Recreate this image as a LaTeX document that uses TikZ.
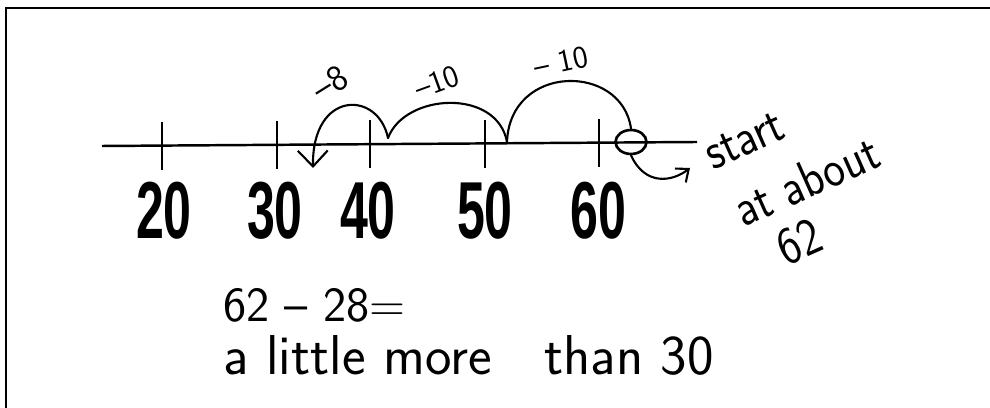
\documentclass[tikz,border=0pt]{standalone}
\usepackage{fontspec}
\usepackage{tikz}
\usetikzlibrary{calc,arrows.meta,shapes.geometric}
\newfontfamily\numfont{Liberation Sans}

\begin{document}
\begin{tikzpicture}[x=0.02cm,y=0.02cm,
		axis/.style={line width=1.4pt},
		hop/.style={line width=1.2pt,line cap=round},
		numlab/.style={font=\numfont\bfseries\fontsize{46}{46}\selectfont,xscale=0.62,inner sep=0pt},
		hand/.style={font=\sffamily\fontsize{26}{26}\selectfont,inner sep=0pt},
		jumplab/.style={font=\sffamily\fontsize{18}{18}\selectfont,inner sep=0pt},
		>={Straight Barb[length=9pt,width=17pt]}]
		\useasboundingbox (0,0) rectangle (990,408);
		% frame
		\draw[line width=1.2pt] (6,0) -- (6,400) -- (990,400);
		% number line
		\coordinate (L) at (102,262);
		\coordinate (R) at (697,266);
		\coordinate (T20) at (162,262);
		\coordinate (T30) at (277,263);
		\coordinate (T40) at (370,264);
		\coordinate (T50) at (485,264);
		\coordinate (T60) at (599,265);
		\draw[axis] (L) -- (R);
		\draw[axis] ($(T20)+(0,-24)$) -- ($(T20)+(0,24)$);
		\draw[axis] ($(T30)+(0,-24)$) -- ($(T30)+(0,24)$);
		\draw[axis] ($(T40)+(0,-24)$) -- ($(T40)+(0,24)$);
		\draw[axis] ($(T50)+(0,-24)$) -- ($(T50)+(0,24)$);
		\draw[axis] ($(T60)+(0,-24)$) -- ($(T60)+(0,24)$);
		\node[numlab] (n20) at (164,197) {20};
		\node[numlab] (n30) at (275,197) {30};
		\node[numlab] (n40) at (368,197) {40};
		\node[numlab] (n50) at (485,197) {50};
		\node[numlab] (n60) at (598,197) {60};
		% jumps back from 62
		\node[draw,hop,line width=1.5pt,ellipse,minimum width=0.62cm,minimum height=0.48cm,inner sep=0pt] (st) at (631,266) {};
		\coordinate (j52) at (507,266);
		\coordinate (j41) at (388,270);
		\coordinate (j34) at (313,240);
		\draw[hop] (st.north) .. controls (622,345) and (510,345) .. (j52);
		\draw[hop] (j52) .. controls (497,320) and (405,315) .. (j41);
		\draw[hop,->] (j41) .. controls (378,318) and (312,318) .. (j34);
		\node[jumplab,rotate=32,font=\sffamily\fontsize{21}{21}\selectfont] (m8) at (330,325) {–8};
		\node[jumplab,rotate=20] (m10a) at (437,326) {–10};
		\node[jumplab,rotate=12] (m10b) at (561,346) {– 10};
		% note on the right
		\coordinate (tip) at (690,240);
		\draw[hop,->,>={Straight Barb[length=6pt,width=10pt]}] (st.south) .. controls (645,222) and (672,226) .. (tip);
		\node[hand,rotate=24,yscale=1.15] (w1) at (745,267) {start};
		\node[hand,rotate=24,yscale=1.15] (w2) at (806,228) {at about};
		\node[hand,rotate=24,yscale=1.15] (w3) at (799,166) {62};
		% sum underneath
		\node[hand,anchor=west,font=\sffamily\fontsize{28}{28}\selectfont] (s1) at (223,103) {62 – 28=};
		\node[hand,anchor=west,font=\sffamily\fontsize{32}{32}\selectfont] (s2) at (223,53) {a little more \ \ than 30};
	\end{tikzpicture}
\end{document}
